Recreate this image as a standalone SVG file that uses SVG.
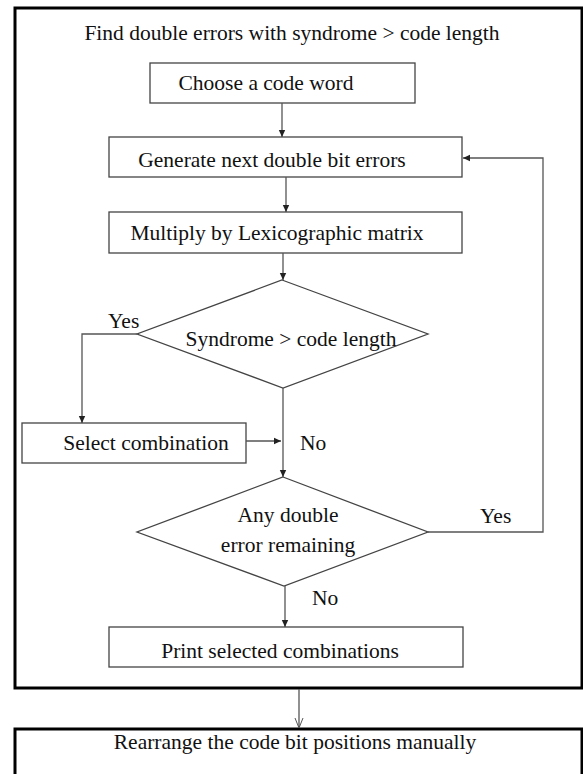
<svg xmlns="http://www.w3.org/2000/svg" width="583" height="774" viewBox="0 0 583 774">
<style>
text{font-family:'Liberation Serif','DejaVu Serif',serif;font-size:21.5px;fill:#111;}
.box{fill:#fff;stroke:#444;stroke-width:1.3;}
.outer{fill:none;stroke:#000;stroke-width:3;}
.ln{fill:none;stroke:#555;stroke-width:1.3;}
</style>
<defs>
<marker id="ah" markerWidth="8" markerHeight="8" refX="7" refY="4" orient="auto" markerUnits="userSpaceOnUse">
<path d="M0,0.8 L7,4 L0,7.2 Z" fill="#222"/>
</marker>
<marker id="oh" markerWidth="12" markerHeight="12" refX="10" refY="6" orient="auto" markerUnits="userSpaceOnUse">
<path d="M0,2 L10,6 L0,10" fill="none" stroke="#555" stroke-width="1"/>
</marker>
</defs>
<rect width="583" height="774" fill="#fff"/>
<g id="outer">
<rect class="outer" x="15" y="8" width="567" height="680"/>
<text x="292" y="40" text-anchor="middle">Find double errors with syndrome &gt; code length</text>
</g>
<g id="choose">
<rect class="box" x="150" y="63" width="265" height="40"/>
<text x="266" y="90" text-anchor="middle">Choose a code word</text>
</g>
<g id="generate">
<rect class="box" x="109" y="137" width="353" height="40"/>
<text x="272" y="167" text-anchor="middle">Generate next double bit errors</text>
</g>
<g id="multiply">
<rect class="box" x="109" y="212" width="353" height="41"/>
<text x="277" y="240" text-anchor="middle">Multiply by Lexicographic matrix</text>
</g>
<g id="syndrome">
<polygon class="box" points="282,280 428,334 283,388 137,334"/>
<text x="291" y="346" text-anchor="middle">Syndrome &gt; code length</text>
</g>
<g id="select">
<rect class="box" x="22" y="423" width="224" height="40"/>
<text x="146" y="450" text-anchor="middle">Select combination</text>
</g>
<g id="remaining">
<polygon class="box" points="283,477 428,532 284,586 137,532"/>
<text x="288" y="522" text-anchor="middle">Any double</text>
<text x="288" y="552" text-anchor="middle">error remaining</text>
</g>
<g id="print">
<rect class="box" x="109" y="627" width="354" height="40"/>
<text x="280" y="658" text-anchor="middle">Print selected combinations</text>
</g>
<g id="rearrange">
<rect class="outer" x="15" y="729" width="567" height="60"/>
<text x="295" y="749" text-anchor="middle">Rearrange the code bit positions manually</text>
</g>
<g id="connectors">
<line class="ln" x1="282" y1="103" x2="282" y2="137" marker-end="url(#ah)"/>
<line class="ln" x1="286" y1="177" x2="286" y2="212" marker-end="url(#ah)"/>
<line class="ln" x1="283" y1="253" x2="283" y2="280" marker-end="url(#ah)"/>
<polyline class="ln" points="137,334 82,334 82,423" marker-end="url(#ah)"/>
<line class="ln" x1="283" y1="388" x2="283" y2="477" marker-end="url(#ah)"/>
<line class="ln" x1="246" y1="441" x2="281" y2="441" marker-end="url(#ah)"/>
<polyline class="ln" points="428,532 543,532 543,158 463,158" marker-end="url(#ah)"/>
<line class="ln" x1="285" y1="586" x2="285" y2="627" marker-end="url(#ah)"/>
<line class="ln" x1="299" y1="689" x2="299" y2="728" marker-end="url(#oh)"/>
</g>
<g id="labels">
<text x="108" y="328">Yes</text>
<text x="300" y="450">No</text>
<text x="480" y="523">Yes</text>
<text x="312" y="605">No</text>
</g>
</svg>
